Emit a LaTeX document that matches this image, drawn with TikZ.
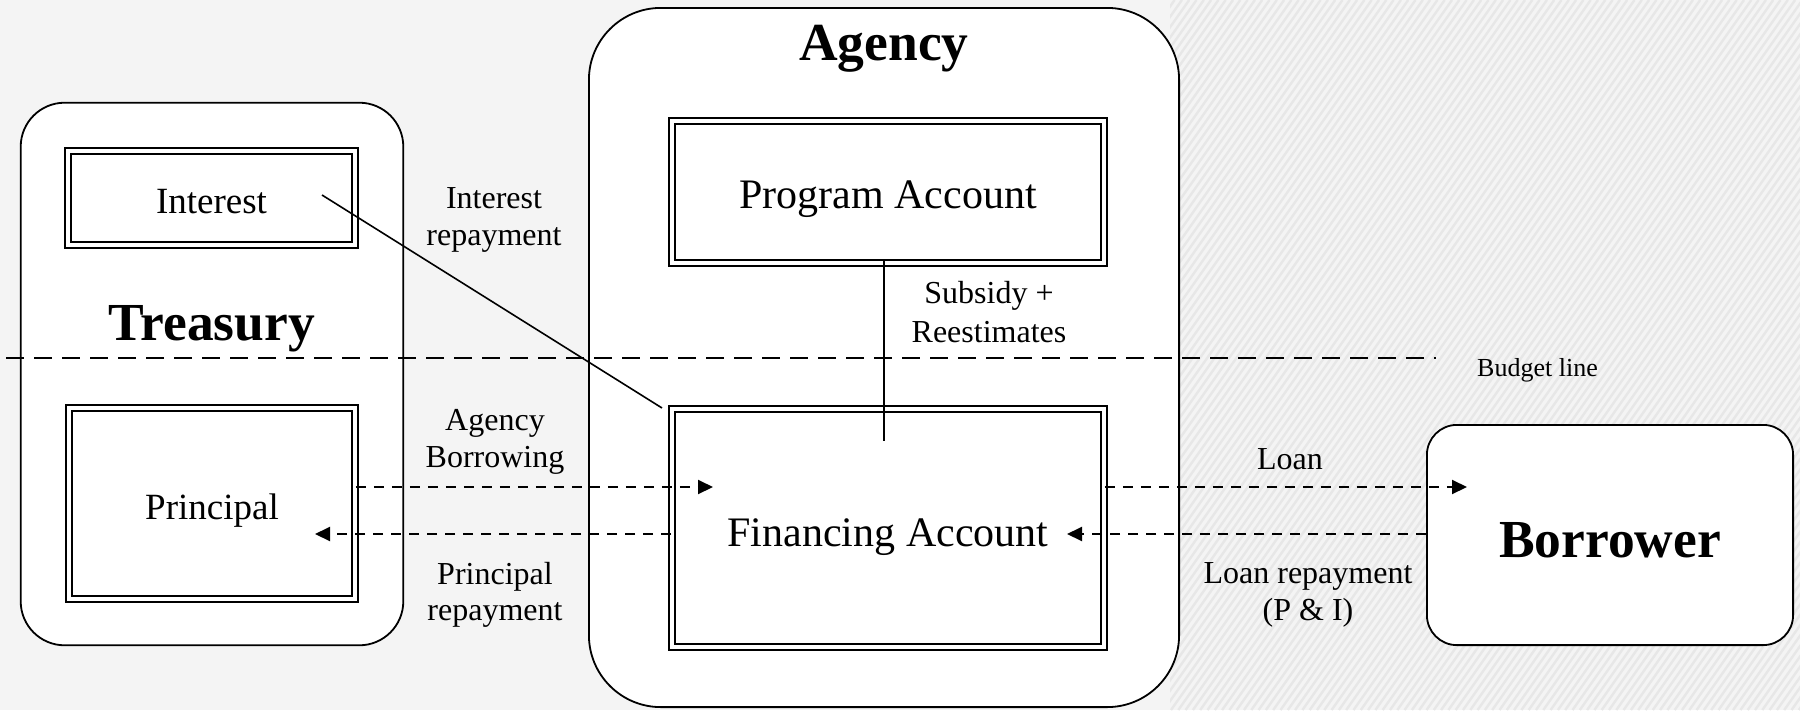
\documentclass[tikz,border=0pt]{standalone}
\usepackage{fontspec}
\setmainfont{Liberation Serif}
\usetikzlibrary{arrows.meta,calc}
\definecolor{bgc}{RGB}{244,244,244}
\definecolor{hatchc}{RGB}{231,231,231}
\begin{document}
\begin{tikzpicture}[x=1pt,y=-1pt,
  container/.style={draw, line width=1.8pt, fill=white, rounded corners=#1, inner sep=0pt},
  acct/.style={draw, line width=2.2pt, double=white, double distance=4pt, fill=white, inner sep=0pt, align=center, text depth=0pt},
  flow/.style={line width=2pt, dash pattern=on 10pt off 8pt, -{Triangle[length=15pt,width=14pt]}},
  lbl/.style={font=\fontsize{32}{37}\selectfont, anchor=base, inner sep=0pt},
  title/.style={font=\bfseries\fontsize{53.5}{60}\selectfont, inner sep=0pt},
  hatch/.style={line width=2.4pt, draw=hatchc},
]
% background
\fill[bgc] (0,0) rectangle (1800,710);
\begin{scope}
  \clip (1170,0) rectangle (1800,710);
  \foreach \i in {0,...,160} {
    \draw[hatch] ({660+\i*7.3},710) -- ++(500,-710);
  }
\end{scope}
\useasboundingbox (0,0) rectangle (1800,710);

% containers
\node[container=44pt, minimum width=382.6pt, minimum height=542.6pt] (treasury) at (212,374) {};
\node[container=72pt, minimum width=590.2pt, minimum height=699.2pt] (agency) at (884,357.5) {};
\node[container=30pt, minimum width=366.2pt, minimum height=220.2pt, text height=44pt, text depth=0pt, font=\bfseries\fontsize{53.5}{60}\selectfont] (borrower) at (1610,535) {Borrower};

\node[title, anchor=base] (treasuryt) at (212,340) {Treasury};
\node[title, anchor=base] (agencyt) at (884,60) {Agency};

% accounts
\node[acct, minimum width=286.6pt, minimum height=93.6pt, text height=30pt, font=\fontsize{37}{44}\selectfont] (int) at (211.5,198) {Interest};
\node[acct, minimum width=285.6pt, minimum height=190.6pt, text height=31pt, font=\fontsize{37}{44}\selectfont] (prin) at (212,503.5) {Principal};
\node[acct, minimum width=431.6pt, minimum height=141.6pt, text height=32pt, font=\fontsize{42}{50}\selectfont] (prog) at (888,192) {Program Account};
\node[acct, minimum width=431.6pt, minimum height=237.6pt, text height=36pt, font=\fontsize{42}{50}\selectfont] (fin) at (888,528) {Financing Account};

% coordinates
\coordinate (bl1) at (6,358);
\coordinate (bl2) at (1436,358);
\coordinate (ir) at (322,195);
\coordinate (irend) at (662,408);
\coordinate (sub) at (884,441);
\coordinate (ab) at (713,487);
\coordinate (pr) at (315,534);
\coordinate (loan) at (1467,487);
\coordinate (lr) at (1067,534);

% budget line
\draw[line width=2pt, dash pattern=on 18pt off 10pt] (bl1) -- (bl2);
\node[font=\fontsize{26}{30}\selectfont, anchor=base west, inner sep=0pt] (budget) at (1477,376) {Budget line};

% connectors
\draw[line width=1.6pt] (ir) -- (irend);
\draw[line width=1.8pt, shorten <=-4pt] (prog.south -| sub) -- (sub);
\draw[flow] (prin.east |- ab) -- (ab);
\draw[flow] (fin.west |- pr) -- (pr);
\draw[flow] (fin.east |- loan) -- (loan);
\draw[flow] (borrower.west |- lr) -- (lr);

% labels
\node[lbl] (ir1) at (494,208) {Interest};
\node[lbl] (ir2) at (494,245) {repayment};
\node[lbl] (sr1) at (989,303) {Subsidy +};
\node[lbl] (sr2) at (989,342) {Reestimates};
\node[lbl] (ab1) at (495,430) {Agency};
\node[lbl] (ab2) at (495,467) {Borrowing};
\node[lbl] (pr1) at (495,584) {Principal};
\node[lbl] (pr2) at (495,620) {repayment};
\node[lbl] (ln1) at (1290,469) {Loan};
\node[lbl] (lr1) at (1308,583) {Loan repayment};
\node[lbl] (lr2) at (1308,620) {(P \& I)};
\end{tikzpicture}
\end{document}
